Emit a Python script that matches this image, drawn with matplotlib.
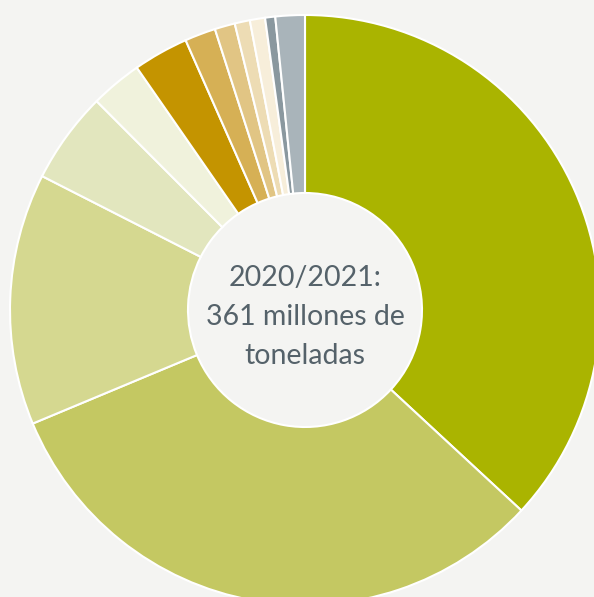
import matplotlib
matplotlib.use("Agg")
import matplotlib.pyplot as plt

# Werte in Mio. t (aus dem Bild geschätzt), im Uhrzeigersinn ab 12 Uhr
values = [133.0, 114.7, 49.7, 18.1, 10.2, 10.9, 6.1, 4.0, 3.0, 3.0, 2.0, 5.8]
colors = ['#AAB400', '#C4C862', '#D5D890', '#E2E6BE', '#F0F2DC', '#C49400',
          '#D6B055', '#E1C584', '#EDDCB4', '#F7EEDA', '#8A989F', '#A9B4BA']
center_label = '2020/2021:\n361 millones de\ntoneladas'

bg = '#F4F4F2'
W, H = 594, 597
cx, cy = 305, H - 310
r_out, r_in = 295, 117

fig = plt.figure(figsize=(W / 100, H / 100), dpi=100)
fig.patch.set_facecolor(bg)
ax = fig.add_axes([0, 0, 1, 1])
ax.set_facecolor(bg)

ax.pie(values, colors=colors, startangle=90, counterclock=False,
       center=(cx, cy), radius=r_out,
       wedgeprops=dict(width=r_out - r_in, edgecolor='white', linewidth=1.5))

ax.text(cx, cy - 7, center_label, ha='center', va='center',
        fontsize=20.5, family='Lato', color='#55626A', linespacing=1.62)

ax.set_xlim(0, W)
ax.set_ylim(0, H)
ax.set_aspect('equal')
ax.axis('off')

fig.savefig('out.png', dpi=100, facecolor=bg)
